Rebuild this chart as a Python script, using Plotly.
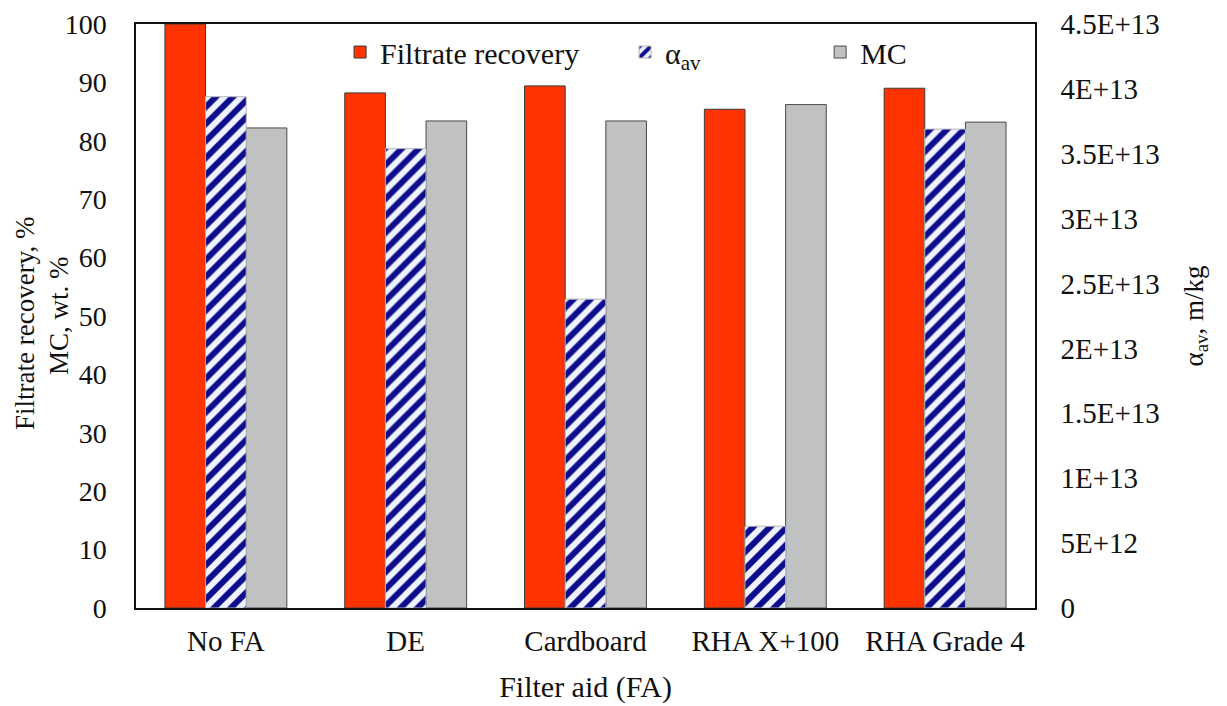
import plotly.graph_objects as go

categories = ["No FA", "DE", "Cardboard", "RHA X+100", "RHA Grade 4"]
filtrate_recovery = [100.0, 88.2, 89.4, 85.4, 89.0]
alpha_av = [3.94e13, 3.54e13, 2.38e13, 0.63e13, 3.69e13]
moisture_content = [82.2, 83.4, 83.4, 86.2, 83.2]

left_ticks = [0, 10, 20, 30, 40, 50, 60, 70, 80, 90, 100]
right_tickvals = [0, 5e12, 1e13, 1.5e13, 2e13, 2.5e13, 3e13, 3.5e13, 4e13, 4.5e13]
right_ticktext = ["0", "5E+12", "1E+13", "1.5E+13", "2E+13", "2.5E+13", "3E+13", "3.5E+13", "4E+13", "4.5E+13"]
left_title_lines = ["Filtrate recovery, %", "MC, wt. %"]

FONT = "Liberation Serif"
TXT = "#111111"

fig = go.Figure()
fig.add_trace(go.Bar(
    x=categories, y=filtrate_recovery, name="Filtrate recovery",
    marker=dict(color="#FF3300", line=dict(color="#3a3a3a", width=1)),
    offsetgroup="1", legend="legend", yaxis="y", showlegend=True))
fig.add_trace(go.Bar(
    x=categories, y=alpha_av, name="α<sub>av</sub>",
    marker=dict(color="#EEF3FF", line=dict(color="#b8b8b8", width=1),
                pattern=dict(shape="/", fgcolor="#0E0E8C", bgcolor="#EEF3FF",
                             size=12, solidity=0.5, fgopacity=1)),
    offsetgroup="2", legend="legend2", yaxis="y2", showlegend=True))
fig.add_trace(go.Bar(
    x=categories, y=moisture_content, name="MC",
    marker=dict(color="#BFC1C2", line=dict(color="#4a4a4a", width=1)),
    offsetgroup="3", legend="legend3", yaxis="y", showlegend=True))

leg_common = dict(orientation="h", yanchor="middle", y=0.952, xanchor="left",
                  bgcolor="rgba(0,0,0,0)", font=dict(family=FONT, size=30, color=TXT),
                  itemwidth=30)

# left axis title drawn as two rotated lines (tighter line spacing than axis title)
for txt, shift, ysh in [(left_title_lines[0], -111, -8), (left_title_lines[1], -77, 0)]:
    fig.add_annotation(text=txt, xref="paper", yref="paper", x=0, y=0.5,
                       xanchor="center", yanchor="middle", xshift=shift, yshift=ysh,
                       textangle=-90, showarrow=False,
                       font=dict(family=FONT, size=27, color=TXT))

fig.update_layout(
    width=1227, height=706,
    margin=dict(l=128, r=200, t=16, b=106, autoexpand=False),
    paper_bgcolor="white", plot_bgcolor="white",
    showlegend=True,
    barmode="group", bargap=0.322, bargroupgap=0,
    font=dict(family=FONT, size=28, color=TXT),
    legend=dict(x=0.227, **leg_common),
    legend2=dict(x=0.544, **leg_common),
    legend3=dict(x=0.761, **leg_common),
    xaxis=dict(
        title=dict(text="Filter aid (FA)", font=dict(family=FONT, size=30, color=TXT), standoff=20),
        showline=True, linecolor="#111111", linewidth=1.5, mirror=True, automargin=False,
        ticks="", tickfont=dict(family=FONT, size=29, color=TXT), showgrid=False,
        ticklabelstandoff=6),
    yaxis=dict(
        range=[0, 100], tickvals=left_ticks, ticks="", showgrid=False, zeroline=False,
        showline=True, linecolor="#111111", linewidth=1.5, automargin=False,
        tickfont=dict(family=FONT, size=28, color=TXT), ticklabelstandoff=22),
    yaxis2=dict(
        title=dict(text="α<sub>av</sub>, m/kg", font=dict(family=FONT, size=27, color=TXT), standoff=25),
        range=[0, 4.5e13], tickvals=right_tickvals, ticktext=right_ticktext,
        overlaying="y", side="right", ticks="", showgrid=False, zeroline=False,
        showline=True, linecolor="#111111", linewidth=1.5, automargin=False,
        tickfont=dict(family=FONT, size=29, color=TXT), ticklabelstandoff=18),
)

fig.write_html("out.html")
